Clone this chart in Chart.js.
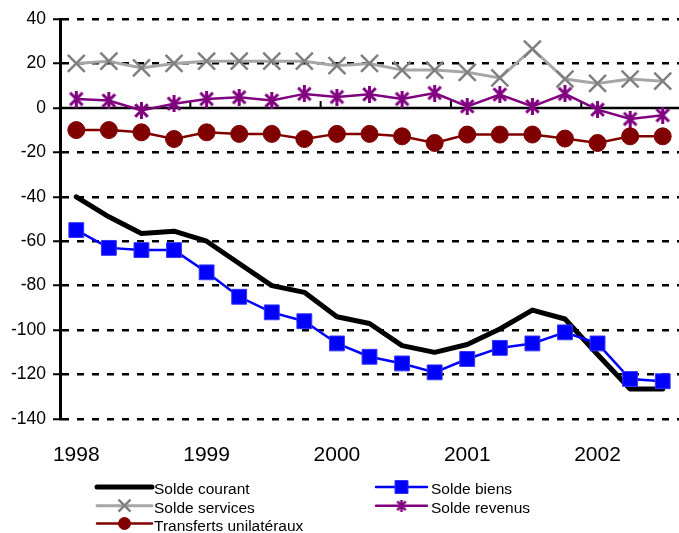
<!DOCTYPE html>
<html>
<head>
<meta charset="utf-8">
<title>Balance des paiements 1998-2002</title>
<style>
  html, body { margin: 0; padding: 0; background: #ffffff; }
  canvas { display: block; }
</style>
<script src="https://cdn.jsdelivr.net/npm/chart.js@4/dist/chart.umd.min.js"></script>
</head>
<body>
<canvas id="chart" width="679" height="533"></canvas>
<script>
// Quarterly periods, 1998 T1 to 2002 T3
const quarters = [
  '1998 T1', '1998 T2', '1998 T3', '1998 T4',
  '1999 T1', '1999 T2', '1999 T3', '1999 T4',
  '2000 T1', '2000 T2', '2000 T3', '2000 T4',
  '2001 T1', '2001 T2', '2001 T3', '2001 T4',
  '2002 T1', '2002 T2', '2002 T3'
];

// Year labels shown under the first quarter of each year
const yearLabels = ['1998', '1999', '2000', '2001', '2002'];

// Balances (milliards)
const soldeCourant = [-40, -49, -56.5, -55.5, -60, -70, -80, -83, -94, -97, -107, -110, -106.5, -99.5, -91, -95, -111, -126.5, -126.5];
const soldeBiens = [-55, -63, -64, -64, -74, -85, -92, -96, -106, -112, -115, -119, -113, -108, -106, -101, -106, -122, -123];
const soldeServices = [20, 21, 18, 20, 21, 21, 21, 21, 19, 20, 17, 17, 16, 13.5, 26.5, 13, 11, 13, 12];
const soldeRevenus = [4, 3.3, -1.2, 1.9, 4, 4.8, 3.3, 6.3, 4.9, 6.1, 4, 6.7, 0.7, 6, 0.7, 6.3, -0.8, -5, -3.3];
const transfertsUnilateraux = [-10, -10, -11, -14, -11, -11.7, -11.7, -14, -11.7, -11.7, -12.8, -15.8, -12, -12, -12, -13.8, -15.8, -12.8, -12.8];

// Value axis
const yMin = -140;
const yMax = 40;
const yStep = 20;

const FONT = "'Liberation Sans', Arial, sans-serif";
Chart.defaults.font.family = FONT;
Chart.defaults.color = '#000000';

// Asterisk marker: a vertical stroke crossed by an X
function makeAsterisk(size, color, lw) {
  const c = document.createElement('canvas');
  c.width = size;
  c.height = size;
  const g = c.getContext('2d');
  g.strokeStyle = color;
  g.lineWidth = lw;
  g.lineCap = 'butt';
  const h = size / 2;
  const e = lw / 2;
  const d = (h - e) * 0.9;
  g.beginPath();
  g.moveTo(h, 0); g.lineTo(h, size);
  g.moveTo(h - d, h - d); g.lineTo(h + d, h + d);
  g.moveTo(h + d, h - d); g.lineTo(h - d, h + d);
  g.stroke();
  return c;
}

const starMarker = makeAsterisk(17, '#800080', 3);
const starLegend = makeAsterisk(12, '#800080', 2.5);

function yearOf(label) { return label.slice(0, 4); }

// Solid zero line with small tick marks at year boundaries
const zeroLine = {
  id: 'zeroLine',
  beforeDatasetsDraw(chart) {
    const { ctx, chartArea: a, scales: { x, y } } = chart;
    const y0 = y.getPixelForValue(0);
    ctx.save();
    ctx.strokeStyle = '#000000';
    ctx.lineWidth = 2.5;
    ctx.beginPath();
    ctx.moveTo(a.left, y0);
    ctx.lineTo(a.right, y0);
    ctx.stroke();
    ctx.lineWidth = 2;
    ctx.beginPath();
    for (let i = 1; i < quarters.length; i++) {
      if (yearOf(quarters[i]) !== yearOf(quarters[i - 1])) {
        const xb = (x.getPixelForValue(i - 1) + x.getPixelForValue(i)) / 2;
        ctx.moveTo(xb, y0);
        ctx.lineTo(xb, y0 - 7);
      }
    }
    ctx.stroke();
    ctx.restore();
  }
};

function drawMarker(ctx, ds, cx, cy) {
  const r = ds.legendMarkerRadius;
  if (!r) return;
  const style = ds.pointStyle;
  ctx.save();
  ctx.fillStyle = ds.pointBackgroundColor;
  ctx.strokeStyle = ds.pointBorderColor;
  ctx.lineWidth = ds.legendMarkerWidth || 1;
  if (style instanceof HTMLCanvasElement) {
    ctx.drawImage(starLegend, cx - starLegend.width / 2, cy - starLegend.height / 2);
  } else if (style === 'circle') {
    ctx.beginPath();
    ctx.arc(cx, cy, r, 0, Math.PI * 2);
    ctx.fill();
    ctx.stroke();
  } else if (style === 'rect') {
    ctx.beginPath();
    ctx.rect(cx - r, cy - r, 2 * r, 2 * r);
    ctx.fill();
    ctx.stroke();
  } else if (style === 'crossRot') {
    ctx.beginPath();
    ctx.moveTo(cx - r, cy - r); ctx.lineTo(cx + r, cy + r);
    ctx.moveTo(cx + r, cy - r); ctx.lineTo(cx - r, cy + r);
    ctx.stroke();
  }
  ctx.restore();
}

// Two-column legend under the plot
const twoColumnLegend = {
  id: 'twoColumnLegend',
  afterDraw(chart) {
    const ctx = chart.ctx;
    const cols = [
      { x0: 97, x1: 152, tx: 154 },
      { x0: 376, x1: 427, tx: 431 }
    ];
    const baselines = [494, 512.7, 530.5];
    chart.data.datasets.forEach((ds, i) => {
      const col = cols[i % 2];
      const base = baselines[Math.floor(i / 2)];
      const ly = base - 7;
      ctx.save();
      ctx.strokeStyle = ds.borderColor;
      ctx.lineWidth = ds.borderWidth;
      ctx.lineCap = 'round';
      ctx.beginPath();
      ctx.moveTo(col.x0, ly);
      ctx.lineTo(col.x1, ly);
      ctx.stroke();
      ctx.restore();
      drawMarker(ctx, ds, (col.x0 + col.x1) / 2, ly);
      ctx.save();
      ctx.fillStyle = '#000000';
      ctx.font = '15.5px ' + FONT;
      ctx.textBaseline = 'alphabetic';
      ctx.textAlign = 'left';
      ctx.fillText(ds.label, col.tx, base);
      ctx.restore();
    });
  }
};

new Chart(document.getElementById('chart'), {
  type: 'line',
  data: {
    labels: quarters,
    datasets: [
      {
        label: 'Solde courant',
        data: soldeCourant,
        borderColor: '#000000',
        backgroundColor: '#000000',
        borderWidth: 5,
        pointRadius: 0,
        borderJoinStyle: 'round',
        borderCapStyle: 'round',
        order: 5
      },
      {
        label: 'Solde biens',
        data: soldeBiens,
        borderColor: '#0000FF',
        backgroundColor: '#0000FF',
        borderWidth: 2.5,
        pointStyle: 'rect',
        pointRadius: 10.5,
        pointBackgroundColor: '#0000FF',
        pointBorderColor: '#3333FF',
        pointBorderWidth: 1,
        legendMarkerRadius: 6.5,
        order: 4
      },
      {
        label: 'Solde services',
        data: soldeServices,
        borderColor: '#A6A6A6',
        backgroundColor: '#A6A6A6',
        borderWidth: 3,
        pointStyle: 'crossRot',
        pointRadius: 12,
        pointBackgroundColor: '#808080',
        pointBorderColor: '#808080',
        pointBorderWidth: 2.5,
        legendMarkerRadius: 6,
        legendMarkerWidth: 2.5,
        order: 3
      },
      {
        label: 'Solde revenus',
        data: soldeRevenus,
        borderColor: '#800080',
        backgroundColor: '#800080',
        borderWidth: 2.5,
        pointStyle: starMarker,
        pointRadius: 8,
        pointBackgroundColor: '#800080',
        pointBorderColor: '#800080',
        legendMarkerRadius: 6,
        order: 2
      },
      {
        label: 'Transferts unilatéraux',
        data: transfertsUnilateraux,
        borderColor: '#800000',
        backgroundColor: '#800000',
        borderWidth: 2.5,
        pointStyle: 'circle',
        pointRadius: 8.5,
        pointBackgroundColor: '#800000',
        pointBorderColor: '#800000',
        pointBorderWidth: 1,
        legendMarkerRadius: 6,
        order: 1
      }
    ]
  },
  options: {
    responsive: false,
    devicePixelRatio: 1,
    animation: false,
    events: [],
    layout: { autoPadding: false, padding: { top: 19, right: 0, bottom: 54, left: 0 } },
    elements: { line: { tension: 0 } },
    plugins: {
      legend: { display: false },
      tooltip: { enabled: false }
    },
    scales: {
      x: {
        type: 'category',
        offset: true,
        grid: { display: false },
        border: { display: false },
        ticks: {
          autoSkip: false,
          maxRotation: 0,
          minRotation: 0,
          padding: 16,
          color: '#000000',
          font: { size: 21, family: FONT },
          callback(value) {
            const label = this.getLabelForValue(value);
            const yr = yearOf(label);
            return label.endsWith('T1') && yearLabels.includes(yr) ? yr : '';
          }
        },
        afterFit(scale) {
          scale.height = 60;
          scale.paddingLeft = 0;
          scale.paddingRight = 0;
        }
      },
      y: {
        min: yMin,
        max: yMax,
        ticks: {
          stepSize: yStep,
          padding: 7,
          color: '#000000',
          font: { size: 17.5, family: FONT }
        },
        grid: {
          color: (c) => (c.tick && c.tick.value === 0 ? 'rgba(0,0,0,0)' : '#000000'),
          lineWidth: 2.5,
          tickColor: '#000000',
          tickWidth: 2,
          tickLength: 7,
          tickBorderDash: []
        },
        border: { display: true, color: '#000000', width: 3, dash: [7, 8] },
        afterFit(scale) { scale.width = 60; }
      }
    }
  },
  plugins: [zeroLine, twoColumnLegend]
});
</script>
</body>
</html>
